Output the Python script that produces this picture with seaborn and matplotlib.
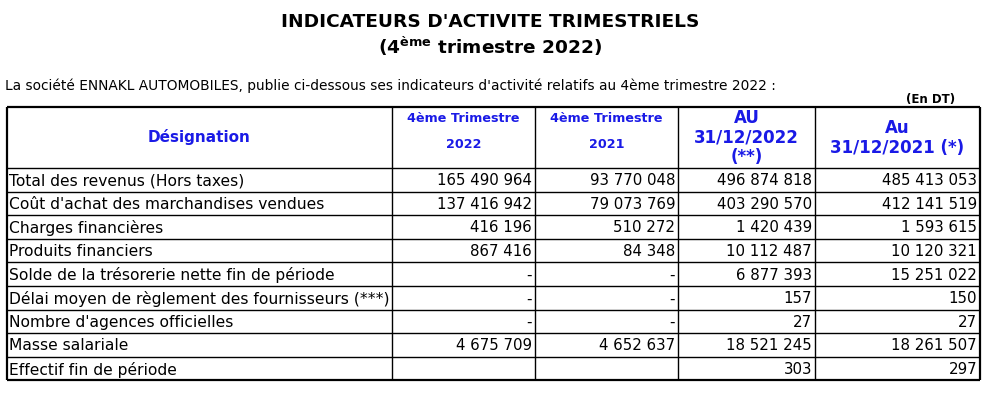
import matplotlib
matplotlib.use('Agg')
import matplotlib.pyplot as plt
import seaborn as sns

# data
designations = [
    "Total des revenus (Hors taxes)",
    "Coût d'achat des marchandises vendues",
    "Charges financières",
    "Produits financiers",
    "Solde de la trésorerie nette fin de période",
    "Délai moyen de règlement des fournisseurs (***)",
    "Nombre d'agences officielles",
    "Masse salariale",
    "Effectif fin de période",
]
t4_2022 = ["165 490 964", "137 416 942", "416 196", "867 416", "-", "-", "-", "4 675 709", ""]
t4_2021 = ["93 770 048", "79 073 769", "510 272", "84 348", "-", "-", "-", "4 652 637", ""]
au_2022 = ["496 874 818", "403 290 570", "1 420 439", "10 112 487", "6 877 393", "157", "27", "18 521 245", "303"]
au_2021 = ["485 413 053", "412 141 519", "1 593 615", "10 120 321", "15 251 022", "150", "27", "18 261 507", "297"]

# header lines per column, with the vertical position of each line
headers = [
    [("Désignation", 137)],
    [("4ème Trimestre", 118), ("2022", 145)],
    [("4ème Trimestre", 118), ("2021", 145)],
    [("AU", 118), ("31/12/2022", 138), ("(**)", 157)],
    [("Au", 128), ("31/12/2021 (*)", 148)],
]
header_sizes = [11, 9.2, 9.2, 12, 12]

# layout (pixels)
col_edges = [7, 392, 535, 678, 815, 980]
head_top, head_bot = 107, 168
row_h = 23.6
blue = '#1a1ae6'

sns.set_theme(style='white')
plt.rcParams['font.family'] = ['DejaVu Sans']
plt.rcParams['text.color'] = 'black'

fig = plt.figure(figsize=(10, 4.01), dpi=100)
ax = fig.add_axes([0, 0, 1, 1])
ax.set_xlim(0, 1000)
ax.set_ylim(401, 0)
ax.axis('off')

ax.text(490, 22, "INDICATEURS D'ACTIVITE TRIMESTRIELS", ha='center', va='center',
        fontsize=13.3, fontweight='bold')
ax.text(490, 46, "(4$^{\\mathbf{ème}}$ trimestre 2022)", ha='center', va='center',
        fontsize=13.3, fontweight='bold')
ax.text(5, 86, "La société ENNAKL AUTOMOBILES, publie ci-dessous ses indicateurs d'activité "
        "relatifs au 4ème trimestre 2022 :", ha='left', va='center', fontsize=9.9)
ax.text(955, 100, "(En DT)", ha='right', va='center', fontsize=8.5, fontweight='bold')

n = len(designations)
bottom = head_bot + n * row_h

# grid lines
ax.hlines([head_top, bottom], col_edges[0], col_edges[-1], color='black', lw=1.6)
ax.hlines([head_bot + i * row_h for i in range(n)], col_edges[0], col_edges[-1], color='black', lw=1.0)
ax.vlines([col_edges[0], col_edges[-1]], head_top, bottom, color='black', lw=1.6)
ax.vlines(col_edges[1:-1], head_top, bottom, color='black', lw=1.0)

# headers
for j, lines in enumerate(headers):
    cx = (col_edges[j] + col_edges[j + 1]) / 2
    for txt, y in lines:
        ax.text(cx, y, txt, ha='center', va='center', color=blue,
                fontsize=header_sizes[j], fontweight='bold')

# body
columns = [t4_2022, t4_2021, au_2022, au_2021]
for i, name in enumerate(designations):
    cy = head_bot + (i + 0.5) * row_h + 1
    ax.text(col_edges[0] + 2, cy, name, ha='left', va='center', fontsize=11.2)
    for j, col in enumerate(columns):
        ax.text(col_edges[j + 2] - 3, cy, col[i], ha='right', va='center', fontsize=10.8)

fig.savefig('out.png', dpi=100, facecolor='white')
